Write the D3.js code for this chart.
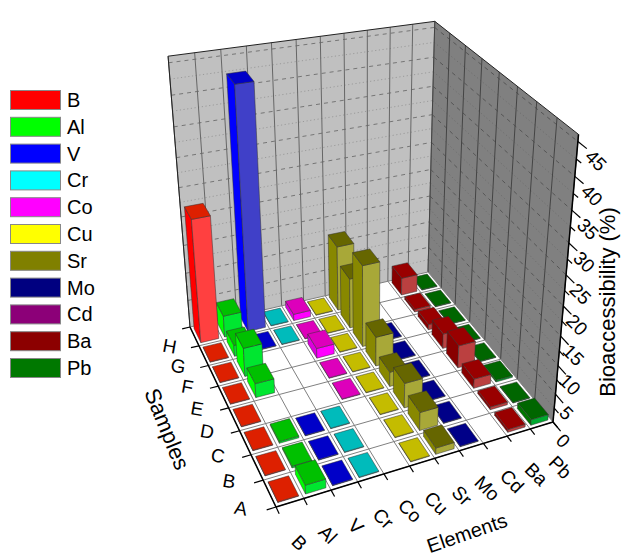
<!DOCTYPE html>
<html>
<head>
<meta charset="utf-8">
<script src="https://cdn.jsdelivr.net/npm/d3@7"></script>
<style>
  body { margin: 0; background: #fff; }
  text { font-family: "Liberation Sans", Arial, sans-serif; fill: #000; }
</style>
</head>
<body>
<div id="viz"></div>
<script>
let w = 631;
let h = 554;

let elements = ["B", "Al", "V", "Cr", "Co", "Cu", "Sr", "Mo", "Cd", "Ba", "Pb"];
let samples = ["A", "B", "C", "D", "E", "F", "G", "H"];
let zTicks = [0, 5, 10, 15, 20, 25, 30, 35, 40, 45];

// values per sample, A to H, 0 = no bar
let valB  = [0.1, 0.1, 0.1, 0.1, 0.1, 0.1, 0.1, 22];
let valAl = [1.5, 0.3, 0.3, 0, 2.5, 5.1, 2, 3.9];
let valV  = [0.1, 0.1, 0.1, 0, 0, 0, 0.1, 42.4];
let valCr = [0.1, 0.1, 0.1, 0, 0, 0, 0.1, 0.1];
let valCo = [0, 0, 0, 0.1, 0.1, 1.8, 0.1, 1.2];
let valCu = [0.1, 0.1, 0.1, 0.1, 0.1, 0.1, 0.1, 0.1];
let valSr = [1.1, 3.2, 4.4, 2.6, 5.3, 14.8, 9.2, 12];
let valMo = [0.1, 0.1, 0.1, 0.1, 0.1, 0.1, 0, 0];
let valCd = [0, 0, 0, 0, 0, 0, 0, 0];
let valBa = [0.5, 0.5, 1.7, 4.1, 2.7, 1, 0.5, 3.3];
let valPb = [1, 0.1, 0.3, 0.1, 0.1, 0.1, 0.1, 0.1];
let values = [valB, valAl, valV, valCr, valCo, valCu, valSr, valMo, valCd, valBa, valPb];

let legendColors = ["#ff0000", "#00ff00", "#0000ff", "#00ffff", "#ff00ff", "#ffff00", "#808000", "#000080", "#8c0078", "#8c0000", "#007800"];
let topColors    = ["#dd2000", "#00c000", "#0000c8", "#00bbbb", "#dd00bb", "#c4bc00", "#666600", "#000088", "#880088", "#990000", "#006600"];
let leftColors   = ["#ff0000", "#00ff00", "#0000ff", "#00ffff", "#dd00dd", "#dddd00", "#888800", "#000099", "#880088", "#880000", "#007700"];
let frontColors  = ["#ff4040", "#00e630", "#4040c8", "#40e0e0", "#ff00ff", "#e0e040", "#a8a838", "#4040aa", "#aa40aa", "#bb4040", "#00aa30"];

// corners of the box: floor then top
let cF = [276, 507], cR = [553, 422], cB = [428, 272], cL = [190, 327];
let topR = [576, 138], topB = [436, 15], topL = [169, 60];

// floor homography
let dx1 = cR[0] - cB[0], dx2 = cL[0] - cB[0], sx = cF[0] - cR[0] + cB[0] - cL[0];
let dy1 = cR[1] - cB[1], dy2 = cL[1] - cB[1], sy = cF[1] - cR[1] + cB[1] - cL[1];
let den = dx1 * dy2 - dx2 * dy1;
let g = (sx * dy2 - dx2 * sy) / den;
let k = (dx1 * sy - sx * dy1) / den;
let a = cR[0] - cF[0] + g * cR[0], b = cL[0] - cF[0] + k * cL[0], c = cF[0];
let d = cR[1] - cF[1] + g * cR[1], e = cL[1] - cF[1] + k * cL[1], f = cF[1];

// fit the vertical column of the camera matrix to the three top corners (least squares)
function fitVertical() {
  let rows = [], rhs = [];
  [[1, 0, topR], [1, 1, topB], [0, 1, topL]].forEach(t => {
    let u = t[0], v = t[1], X = t[2][0], Y = t[2][1];
    let hx = a * u + b * v + c, hy = d * u + e * v + f, hw = g * u + k * v + 1;
    rows.push([1, 0, -X]); rhs.push(X * hw - hx);
    rows.push([0, 1, -Y]); rhs.push(Y * hw - hy);
  });
  let A = [0, 1, 2].map(i => [0, 1, 2].map(j => d3.sum(rows, r => r[i] * r[j])));
  let B = [0, 1, 2].map(i => d3.sum(rows, (r, n) => r[i] * rhs[n]));
  // gaussian elimination
  for (let i = 0; i < 3; i++) {
    for (let j = i + 1; j < 3; j++) {
      let m = A[j][i] / A[i][i];
      for (let q = i; q < 3; q++) A[j][q] -= m * A[i][q];
      B[j] -= m * B[i];
    }
  }
  let s = [0, 0, 0];
  for (let i = 2; i >= 0; i--) {
    s[i] = (B[i] - d3.sum([0, 1, 2].filter(q => q > i), q => A[i][q] * s[q])) / A[i][i];
  }
  return s;
}
let pv = fitVertical();

// u, v, t all 0..1 (u along elements, v along samples, t up)
function project(u, v, t) {
  let W = g * u + k * v + 1 + pv[2] * t;
  return [(a * u + b * v + c + pv[0] * t) / W, (d * u + e * v + f + pv[1] * t) / W];
}

// scales
let xBand = d3.scaleBand().domain(elements).range([0, 1]).paddingInner(0.25).paddingOuter(0.125);
let yBand = d3.scaleBand().domain(samples).range([0, 1]).paddingInner(0.25).paddingOuter(0.125);
let xEdge = d3.scaleLinear().domain([0, elements.length]).range([0, 1]);
let yEdge = d3.scaleLinear().domain([0, samples.length]).range([0, 1]);
let zScale = d3.scaleLinear().domain([0, 46]).range([0, 1]);

let viz = d3.select("#viz").append("svg")
  .attr("width", w).attr("height", h)
  .attr("viewBox", "0 0 " + w + " " + h);

let poly = pts => "M" + pts.map(p => p[0] + "," + p[1]).join("L") + "Z";

function seg(layer, p1, p2, stroke, width, dash) {
  layer.append("path")
    .attr("d", "M" + p1 + "L" + p2)
    .attr("stroke", stroke)
    .attr("stroke-width", width)
    .attr("stroke-dasharray", dash || null)
    .attr("fill", "none");
}

// walls and floor
let box = viz.append("g").attr("class", "box");
box.append("path").attr("d", poly([project(0, 0, 0), project(1, 0, 0), project(1, 1, 0), project(0, 1, 0)])).attr("fill", "#fff");
box.append("path").attr("d", poly([project(0, 1, 0), project(1, 1, 0), project(1, 1, 1), project(0, 1, 1)])).attr("fill", "#c0c0c0");
box.append("path").attr("d", poly([project(1, 0, 0), project(1, 1, 0), project(1, 1, 1), project(1, 0, 1)])).attr("fill", "#808080");

// horizontal wall lines: dashed on the labelled ticks, dotted half way
d3.range(2.5, 47.5, 2.5).forEach(z => {
  let t = zScale(z);
  let major = z % 5 == 0;
  let col = major ? "#555" : "#8a8a8a";
  let dash = major ? "4,4" : "1.2,2.5";
  seg(box, project(0, 1, t), project(1, 1, t), col, 0.7, dash);
  seg(box, project(1, 1, t), project(1, 0, t), major ? "#444" : "#666", 0.7, dash);
});
// vertical wall lines and floor grid
d3.range(0, elements.length + 1).forEach(i => {
  let u = xEdge(i);
  seg(box, project(u, 1, 0), project(u, 1, 1), "#666", 1);
  seg(box, project(u, 0, 0), project(u, 1, 0), "#808080", 1);
});
d3.range(0, samples.length + 1).forEach(i => {
  let v = yEdge(i);
  seg(box, project(1, v, 0), project(1, v, 1), "#444", 1);
  seg(box, project(0, v, 0), project(1, v, 0), "#808080", 1);
});

// box outline
seg(box, project(0, 1, 1), project(1, 1, 1), "#222", 1);
seg(box, project(1, 1, 1), project(1, 0, 1), "#222", 1);
seg(box, project(0, 1, 0), project(0, 1, 1), "#222", 1);
seg(box, project(1, 0, 0), project(1, 0, 1), "#000", 1.5);
seg(box, project(0, 0, 0), project(1, 0, 0), "#000", 1.5);
seg(box, project(0, 0, 0), project(0, 1, 0), "#000", 1.5);

// ticks
d3.range(0, elements.length + 1).forEach(i => {
  seg(box, project(xEdge(i), 0, 0), project(xEdge(i), -0.03, 0), "#000", 1.2);
});
d3.range(0, samples.length + 1).forEach(i => {
  seg(box, project(0, yEdge(i), 0), project(-0.03, yEdge(i), 0), "#000", 1.2);
});
d3.range(0, 47.5, 2.5).forEach(z => {
  let len = z % 5 == 0 ? -0.05 : -0.028;
  seg(box, project(1, 0, zScale(z)), project(1, len, zScale(z)), "#000", 1.2);
});

// bars, back to front
let bars = viz.append("g").attr("class", "bars");
samples.slice().reverse().forEach(s => {
  let si = samples.indexOf(s);
  elements.slice().reverse().forEach(el => {
    let ei = elements.indexOf(el);
    let val = values[ei][si];
    if (!val) return;
    let x0 = xBand(el), x1 = x0 + xBand.bandwidth();
    let y0 = yBand(s), y1 = y0 + yBand.bandwidth();
    let t = zScale(val);
    let left = [project(x0, y1, 0), project(x0, y0, 0), project(x0, y0, t), project(x0, y1, t)];
    let front = [project(x0, y0, 0), project(x1, y0, 0), project(x1, y0, t), project(x0, y0, t)];
    let top = [project(x0, y0, t), project(x1, y0, t), project(x1, y1, t), project(x0, y1, t)];
    let g1 = bars.append("g").attr("stroke", "#333").attr("stroke-width", 0.5).attr("stroke-linejoin", "round");
    if (d3.polygonArea(left) > 0) g1.append("path").attr("d", poly(left)).attr("fill", leftColors[ei]);
    g1.append("path").attr("d", poly(front)).attr("fill", frontColors[ei]);
    g1.append("path").attr("d", poly(top)).attr("fill", topColors[ei]);
  });
});

// tick labels
let labels = viz.append("g").attr("class", "labels");
function rotatedText(str, pt, angle, size) {
  labels.append("text")
    .attr("transform", "translate(" + pt[0] + "," + pt[1] + ") rotate(" + angle + ")")
    .attr("text-anchor", "middle")
    .attr("dominant-baseline", "central")
    .attr("font-size", size)
    .text(str);
}
// label offsets in pixels, they grow along the edge
let xOffX = d3.scaleLinear().domain([0, 1]).range([9, 19]);
let xOffY = d3.scaleLinear().domain([0, 1]).range([40, 42]);
let zOffX = d3.scaleLinear().domain([0, 1]).range([10, 18]);
elements.forEach(el => {
  let u = xBand(el) + xBand.bandwidth() / 2;
  let p = project(u, 0, 0);
  rotatedText(el, [p[0] + xOffX(u), p[1] + xOffY(u)], 45, 19);
});
samples.forEach(s => {
  let v = yBand(s) + yBand.bandwidth() / 2;
  rotatedText(s, project(-0.1, v - 0.025, 0), 10, 19);
});
zTicks.forEach(z => {
  let p = project(1, 0, zScale(z));
  rotatedText(z, [p[0] + zOffX(zScale(z)), p[1] + 19], 45, 19);
});

// axis titles
rotatedText("Samples", [167, 429], 68, 22);
rotatedText("Elements", [467, 533], -19, 20);
rotatedText("Bioaccessibility (%)", [607, 302], -90, 22);

// legend
let legendY = d3.scaleLinear().domain([0, 1]).range([90, 116.8]);
let legend = viz.append("g").attr("class", "legend");
elements.forEach((el, i) => {
  legend.append("rect")
    .attr("x", 10.5).attr("y", legendY(i) + 0.5)
    .attr("width", 50).attr("height", 19)
    .attr("fill", legendColors[i])
    .attr("stroke", "#888");
  legend.append("text")
    .attr("x", 67).attr("y", legendY(i) + 10)
    .attr("dominant-baseline", "central")
    .attr("font-size", 20)
    .text(el);
});
</script>
</body>
</html>
